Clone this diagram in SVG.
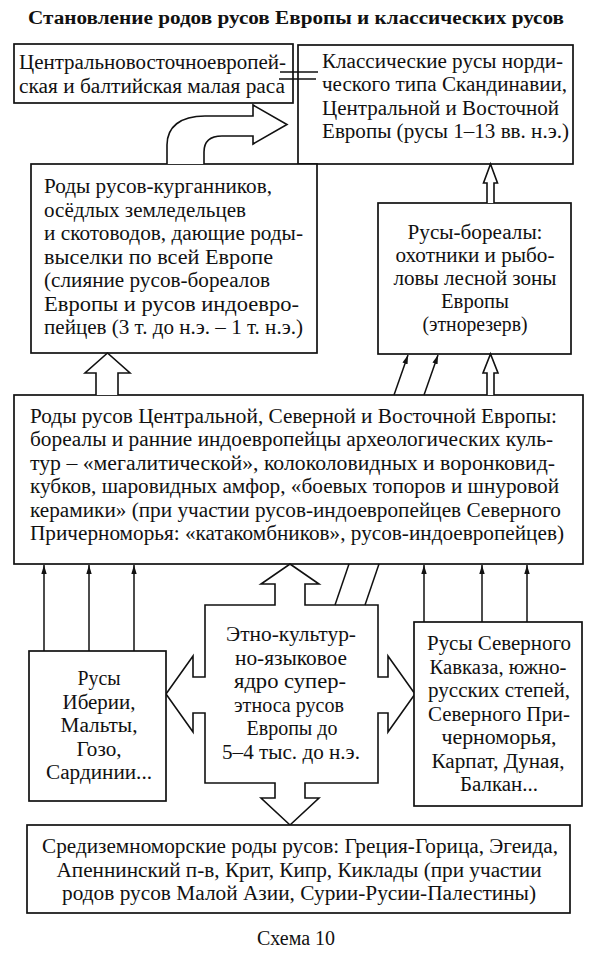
<svg xmlns="http://www.w3.org/2000/svg" width="594" height="964" viewBox="0 0 594 964">
<style>
.box{fill:#fff;stroke:#111;stroke-width:1.7}
.ln{fill:none;stroke:#111;stroke-width:1.5}
.ho{fill:#fff;stroke:#111;stroke-width:1.6;stroke-linejoin:miter}
text{font-family:"Liberation Serif","Times New Roman",serif;font-size:20px;fill:#111}
.c{text-anchor:middle}
.t{font-weight:bold;font-size:18px}
</style>
<defs>
<marker id="ah" viewBox="0 0 10 6" refX="10" refY="3" markerWidth="9" markerHeight="5.4" markerUnits="userSpaceOnUse" orient="auto">
<path d="M0,0 L10,3 L0,6 z" fill="#111"/>
</marker>
</defs>
<rect width="594" height="964" fill="#fff"/>
<text class="t c" x="296" y="24" textLength="536" lengthAdjust="spacingAndGlyphs">Становление родов русов Европы и классических русов</text>

<g id="box1">
<rect class="box" x="14" y="44" width="279" height="59"/>
<text x="19" y="69" textLength="267" lengthAdjust="spacingAndGlyphs">Центральновосточноевропей-</text>
<text x="19" y="93" textLength="266" lengthAdjust="spacingAndGlyphs">ская и балтийская малая раса</text>
</g>

<g id="box2">
<rect class="box" x="298" y="45" width="275" height="119"/>
<text x="322" y="67.5" textLength="241" lengthAdjust="spacingAndGlyphs">Классические русы норди-</text>
<text x="322" y="91" textLength="245" lengthAdjust="spacingAndGlyphs">ческого типа Скандинавии,</text>
<text x="322" y="114.5" textLength="237" lengthAdjust="spacingAndGlyphs">Центральной и Восточной</text>
<text x="322" y="138" textLength="247" lengthAdjust="spacingAndGlyphs">Европы (русы 1–13 вв. н.э.)</text>
</g>

<g id="box3">
<rect class="box" x="31" y="164" width="286" height="189"/>
<text x="44" y="193" textLength="228" lengthAdjust="spacingAndGlyphs">Роды русов-курганников,</text>
<text x="44" y="216.5" textLength="202" lengthAdjust="spacingAndGlyphs">осёдлых земледельцев</text>
<text x="44" y="240" textLength="259" lengthAdjust="spacingAndGlyphs">и скотоводов, дающие роды-</text>
<text x="44" y="263.5" textLength="229" lengthAdjust="spacingAndGlyphs">выселки по всей Европе</text>
<text x="44" y="287" textLength="226" lengthAdjust="spacingAndGlyphs">(слияние русов-бореалов</text>
<text x="44" y="310.5" textLength="255" lengthAdjust="spacingAndGlyphs">Европы и русов индоевро-</text>
<text x="44" y="334" textLength="259" lengthAdjust="spacingAndGlyphs">пейцев (3 т. до н.э. – 1 т. н.э.)</text>
</g>

<g id="box4">
<rect class="box" x="378" y="203" width="193" height="151"/>
<text class="c" x="475" y="239" textLength="135" lengthAdjust="spacingAndGlyphs">Русы-бореалы:</text>
<text class="c" x="475" y="262" textLength="159" lengthAdjust="spacingAndGlyphs">охотники и рыбо-</text>
<text class="c" x="475" y="285" textLength="163" lengthAdjust="spacingAndGlyphs">ловы лесной зоны</text>
<text class="c" x="475" y="308" textLength="68" lengthAdjust="spacingAndGlyphs">Европы</text>
<text class="c" x="475" y="331" textLength="105" lengthAdjust="spacingAndGlyphs">(этнорезерв)</text>
</g>

<g id="box5">
<rect class="box" x="14" y="395" width="569" height="169"/>
<text x="30" y="423" textLength="527" lengthAdjust="spacingAndGlyphs">Роды русов Центральной, Северной и Восточной Европы:</text>
<text x="30" y="446.4" textLength="523" lengthAdjust="spacingAndGlyphs">бореалы и ранние индоевропейцы археологических куль-</text>
<text x="30" y="469.8" textLength="525" lengthAdjust="spacingAndGlyphs">тур – «мегалитической», колоколовидных и воронковид-</text>
<text x="30" y="493.2" textLength="529" lengthAdjust="spacingAndGlyphs">кубков, шаровидных амфор, «боевых топоров и шнуровой</text>
<text x="30" y="516.6" textLength="531" lengthAdjust="spacingAndGlyphs">керамики» (при участии русов-индоевропейцев Северного</text>
<text x="30" y="540" textLength="534" lengthAdjust="spacingAndGlyphs">Причерноморья: «катакомбников», русов-индоевропейцев)</text>
</g>

<g id="core">
<path class="ho" d="M290,564 L319,584 L305,584 L305,605 L378,605 L378,677 L388,677 L388,656 L415,694 L388,732 L388,713 L378,713 L378,783 L305,783 L305,798 L319,798 L290,825 L261,798 L275,798 L275,783 L205,783 L205,713 L193,713 L193,732 L166,694 L193,656 L193,677 L205,677 L205,605 L275,605 L275,584 L261,584 Z"/>
<text class="c" x="291" y="641" textLength="130" lengthAdjust="spacingAndGlyphs">Этно-культур-</text>
<text class="c" x="291" y="664.5" textLength="112" lengthAdjust="spacingAndGlyphs">но-языковое</text>
<text class="c" x="290" y="688" textLength="112" lengthAdjust="spacingAndGlyphs">ядро супер-</text>
<text class="c" x="289" y="711.5" textLength="110" lengthAdjust="spacingAndGlyphs">этноса русов</text>
<text class="c" x="292" y="735" textLength="91" lengthAdjust="spacingAndGlyphs">Европы до</text>
<text class="c" x="291" y="758.5" textLength="138" lengthAdjust="spacingAndGlyphs">5–4 тыс. до н.э.</text>
</g>

<g id="box6">
<rect class="box" x="29" y="651" width="137" height="150"/>
<text class="c" x="99" y="685" textLength="43" lengthAdjust="spacingAndGlyphs">Русы</text>
<text class="c" x="99" y="708.5" textLength="73" lengthAdjust="spacingAndGlyphs">Иберии,</text>
<text class="c" x="99" y="732" textLength="77" lengthAdjust="spacingAndGlyphs">Мальты,</text>
<text class="c" x="99" y="755.5" textLength="45" lengthAdjust="spacingAndGlyphs">Гозо,</text>
<text class="c" x="99" y="779" textLength="106" lengthAdjust="spacingAndGlyphs">Сардинии...</text>
</g>

<g id="box7">
<rect class="box" x="414" y="622" width="168" height="184"/>
<text class="c" x="499" y="650" textLength="144" lengthAdjust="spacingAndGlyphs">Русы Северного</text>
<text class="c" x="498" y="673.5" textLength="137" lengthAdjust="spacingAndGlyphs">Кавказа, южно-</text>
<text class="c" x="499" y="697" textLength="142" lengthAdjust="spacingAndGlyphs">русских степей,</text>
<text class="c" x="499" y="720.5" textLength="142" lengthAdjust="spacingAndGlyphs">Северного При-</text>
<text class="c" x="499" y="744" textLength="115" lengthAdjust="spacingAndGlyphs">черноморья,</text>
<text class="c" x="498" y="767.5" textLength="133" lengthAdjust="spacingAndGlyphs">Карпат, Дуная,</text>
<text class="c" x="499" y="791" textLength="78" lengthAdjust="spacingAndGlyphs">Балкан...</text>
</g>

<g id="box8">
<rect class="box" x="27" y="825" width="543" height="88"/>
<text class="c" x="300" y="853" textLength="516" lengthAdjust="spacingAndGlyphs">Средиземноморские роды русов: Греция-Горица, Эгеида,</text>
<text class="c" x="299" y="876.5" textLength="485" lengthAdjust="spacingAndGlyphs">Апеннинский п-в, Крит, Кипр, Киклады (при участии</text>
<text class="c" x="299" y="900" textLength="474" lengthAdjust="spacingAndGlyphs">родов русов Малой Азии, Сурии-Русии-Палестины)</text>
</g>

<g id="connectors">
<line class="ln" x1="280" y1="72" x2="318" y2="72"/>
<line class="ln" x1="279" y1="79" x2="316" y2="79"/>
<path class="ho" d="M167,164 V145 C167,127 180,116 205,116 H253 V105 L287,124.5 L253,144 V136 H222 C210,136 204,142 204,152 V164"/>
<path class="ho" d="M487,203 V183 H483.5 L490.5,164 L497.5,183 H494 V203"/>
<path class="ho" d="M487,395 V373 H483 L490.5,354 L498,373 H494 V395"/>
<path class="ho" d="M96,395 V373 H85 L107.5,353 L130,373 H118 V395"/>
<line class="ln" x1="394" y1="395" x2="408" y2="355" marker-end="url(#ah)"/>
<line class="ln" x1="424" y1="395" x2="438" y2="355" marker-end="url(#ah)"/>
<line class="ln" x1="335" y1="605" x2="349" y2="564"/>
<line class="ln" x1="365" y1="605" x2="379" y2="564"/>
<line class="ln" x1="44" y1="651" x2="44" y2="565" marker-end="url(#ah)"/>
<line class="ln" x1="89" y1="651" x2="89" y2="565" marker-end="url(#ah)"/>
<line class="ln" x1="134" y1="651" x2="134" y2="565" marker-end="url(#ah)"/>
<line class="ln" x1="424" y1="622" x2="424" y2="565" marker-end="url(#ah)"/>
<line class="ln" x1="482" y1="622" x2="482" y2="565" marker-end="url(#ah)"/>
<line class="ln" x1="527" y1="622" x2="527" y2="565" marker-end="url(#ah)"/>
</g>

<text class="c" x="296" y="945" font-size="19">Схема 10</text>
</svg>
